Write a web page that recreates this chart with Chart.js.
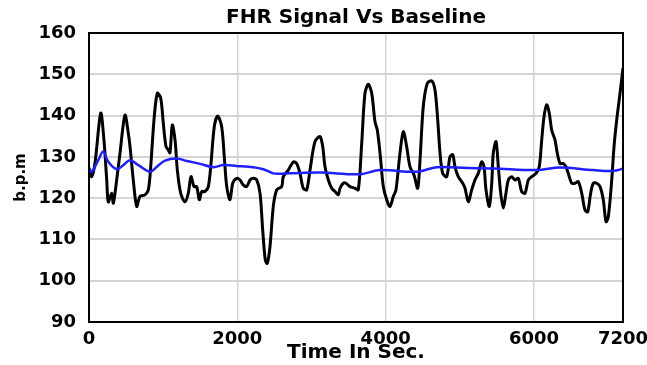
<!DOCTYPE html>
<html>
<head>
<meta charset="utf-8">
<script src="https://cdn.jsdelivr.net/npm/chart.js@4/dist/chart.umd.min.js"></script>
<style>
  html, body { margin: 0; padding: 0; background: #ffffff; }
  #wrap { width: 647px; height: 365px; position: relative; }
</style>
</head>
<body>
<div id="wrap"><canvas id="c" width="647" height="365"></canvas></div>
<script>
const chartTitle = "FHR Signal Vs Baseline";
const xAxisTitle = "Time In Sec.";
const yAxisTitle = "b.p.m";
const xTickValues = [0, 2000, 4000, 6000, 7200];
const yTickValues = [90, 100, 110, 120, 130, 140, 150, 160];

const signalTimes = [0, 36, 81, 158, 202, 239, 260, 306, 328, 373, 418, 485, 530, 553, 597, 643, 688, 755, 800, 832, 876, 921, 967, 1002, 1038, 1069, 1092, 1123, 1160, 1191, 1236, 1294, 1339, 1375, 1416, 1452, 1487, 1520, 1564, 1609, 1645, 1689, 1735, 1789, 1824, 1857, 1901, 1938, 1991, 2036, 2080, 2126, 2171, 2215, 2261, 2306, 2342, 2377, 2404, 2440, 2485, 2531, 2598, 2620, 2687, 2755, 2800, 2845, 2889, 2935, 2980, 3047, 3115, 3151, 3182, 3227, 3272, 3317, 3361, 3384, 3429, 3465, 3519, 3587, 3631, 3677, 3721, 3766, 3812, 3856, 3887, 3924, 3968, 4014, 4058, 4103, 4139, 4193, 4238, 4283, 4328, 4382, 4432, 4463, 4507, 4561, 4621, 4665, 4702, 4733, 4769, 4823, 4867, 4904, 4935, 4979, 5039, 5070, 5114, 5160, 5204, 5249, 5295, 5326, 5353, 5397, 5430, 5451, 5488, 5519, 5551, 5586, 5622, 5654, 5699, 5744, 5788, 5834, 5879, 5923, 5969, 6027, 6071, 6104, 6135, 6171, 6206, 6238, 6283, 6314, 6351, 6395, 6431, 6462, 6508, 6553, 6597, 6643, 6688, 6724, 6764, 6800, 6845, 6890, 6934, 6971, 7002, 7048, 7079, 7115, 7160, 7200];
const signalValues = [127.3, 125.2, 128.5, 140.6, 134, 124.4, 119.1, 121.2, 118.8, 124.4, 130.9, 140.1, 135.7, 132.5, 124.4, 118.0, 120.4, 120.8, 122, 127.6, 138.9, 145.4, 144.2, 138.1, 132.5, 131.7, 131, 137.7, 134.1, 126.8, 121.2, 119.1, 121.2, 125.2, 122.8, 122.8, 119.6, 121.6, 121.6, 122.8, 128.4, 137.3, 139.9, 137.3, 130, 122.8, 119.6, 123.6, 124.8, 124.4, 123.2, 122.8, 124.4, 124.8, 124.4, 121.2, 112.3, 105, 104.2, 108.2, 118, 122, 122.8, 125.2, 126.8, 128.8, 128.4, 126, 122.4, 122, 126.8, 133.7, 134.9, 132.5, 127.6, 124.4, 122.4, 121.6, 120.8, 122.4, 123.6, 123.6, 122.8, 122.4, 122, 133.3, 145.4, 147.6, 145.4, 138.5, 136.5, 130.9, 122.8, 119.6, 118, 120.4, 122, 130.9, 136.1, 132.5, 127.6, 125.6, 122.4, 129.2, 142.2, 147.8, 148.4, 146.2, 138.9, 130.9, 126, 125.2, 130, 130.5, 127.6, 125.2, 123.6, 122.4, 119.1, 122, 124.4, 126, 128.8, 127.6, 122, 118, 123.6, 130.9, 133.7, 127.6, 121.2, 117.6, 121.2, 124.4, 125.2, 124.4, 124.8, 121.6, 121.2, 124.4, 125.2, 126, 127.6, 134.1, 139.7, 142.6, 140.6, 136.5, 134.1, 130.9, 128.4, 128.4, 127.6, 126, 123.6, 123.6, 124, 121.2, 117.1, 116.7, 121.2, 123.6, 123.6, 122.8, 119.6, 114.3, 115.5, 124.4, 132.5, 138.9, 145.4, 151.5];

const baselineTimes = [0, 36, 125, 192, 260, 373, 463, 553, 665, 825, 915, 1025, 1183, 1317, 1497, 1676, 1811, 1991, 2215, 2350, 2485, 2575, 2710, 3115, 3655, 3924, 4418, 4688, 5100, 5451, 6036, 6351, 6800, 7070, 7200];
const baselineValues = [127.3, 126.4, 129.2, 131.3, 128.8, 127, 128, 129.2, 128, 126.4, 127.6, 129.1, 129.6, 129, 128.3, 127.5, 128, 127.8, 127.5, 127, 126, 125.9, 126, 126.2, 125.8, 126.8, 126.4, 127.5, 127.3, 127.2, 126.8, 127.4, 126.8, 126.6, 127.1];

const signalData = signalTimes.map((t, i) => ({ x: t, y: signalValues[i] }));
const baselineData = baselineTimes.map((t, i) => ({ x: t, y: baselineValues[i] }));

const FONT = "'DejaVu Sans', sans-serif";

const boxPlugin = {
  id: 'box',
  afterDraw(chart) {
    const a = chart.chartArea, ctx = chart.ctx;
    ctx.save();
    ctx.strokeStyle = '#000';
    ctx.lineWidth = 2;
    ctx.strokeRect(a.left, a.top, a.right - a.left, a.bottom - a.top);
    ctx.restore();
  }
};

new Chart(document.getElementById('c'), {
  type: 'line',
  data: {
    datasets: [
      { label: 'Baseline', data: baselineData, borderColor: '#1f1fff', borderWidth: 2.5, pointRadius: 0, tension: 0.35, fill: false, order: 1 },
      { label: 'FHR', data: signalData, borderColor: '#000000', borderWidth: 3, pointRadius: 0, tension: 0.3, fill: false, order: 2 }
    ]
  },
  options: {
    responsive: false,
    animation: false,
    layout: { padding: { left: 0, right: 24, top: 0, bottom: 0 } },
    plugins: {
      legend: { display: false },
      tooltip: { enabled: false },
      title: {
        display: true, text: chartTitle, fullSize: false, color: '#000',
        font: { family: FONT, size: 20, weight: 'bold' },
        padding: { top: 6, bottom: 3 }
      }
    },
    scales: {
      x: {
        type: 'linear', min: 0, max: 7200,
        afterBuildTicks(s) { s.ticks = xTickValues.map(v => ({ value: v })); },
        afterFit(s) { s.height = 43; s.paddingLeft = 0; s.paddingRight = 0; },
        ticks: { color: '#000', font: { family: FONT, size: 18, weight: 'bold' }, padding: 7, maxRotation: 0, autoSkip: false,
                 callback: (v) => String(v) },
        grid: {
          drawTicks: false,
          color: (c) => (c.tick && (c.tick.value === 0 || c.tick.value === 7200)) ? 'rgba(0,0,0,0)' : '#d4d4d4',
          lineWidth: 1.5
        },
        border: { display: false },
        title: { display: true, text: xAxisTitle, color: '#000', font: { family: FONT, size: 20, weight: 'bold' }, padding: { top: 0, bottom: 0 } }
      },
      y: {
        min: 90, max: 160,
        afterBuildTicks(s) { s.ticks = yTickValues.map(v => ({ value: v })); },
        afterFit(s) { s.width = 89; s.paddingTop = 0; s.paddingBottom = 0; },
        ticks: { color: '#000', font: { family: FONT, size: 18, weight: 'bold' }, padding: 13, callback: (v) => String(v) },
        grid: {
          drawTicks: false,
          color: (c) => (c.tick && (c.tick.value === 90 || c.tick.value === 160)) ? 'rgba(0,0,0,0)' : '#d4d4d4',
          lineWidth: 2
        },
        border: { display: false },
        title: { display: true, text: yAxisTitle, color: '#000', font: { family: FONT, size: 15, weight: 'bold' }, padding: { top: 12, bottom: 0 } }
      }
    }
  },
  plugins: [boxPlugin]
});
</script>
</body>
</html>
